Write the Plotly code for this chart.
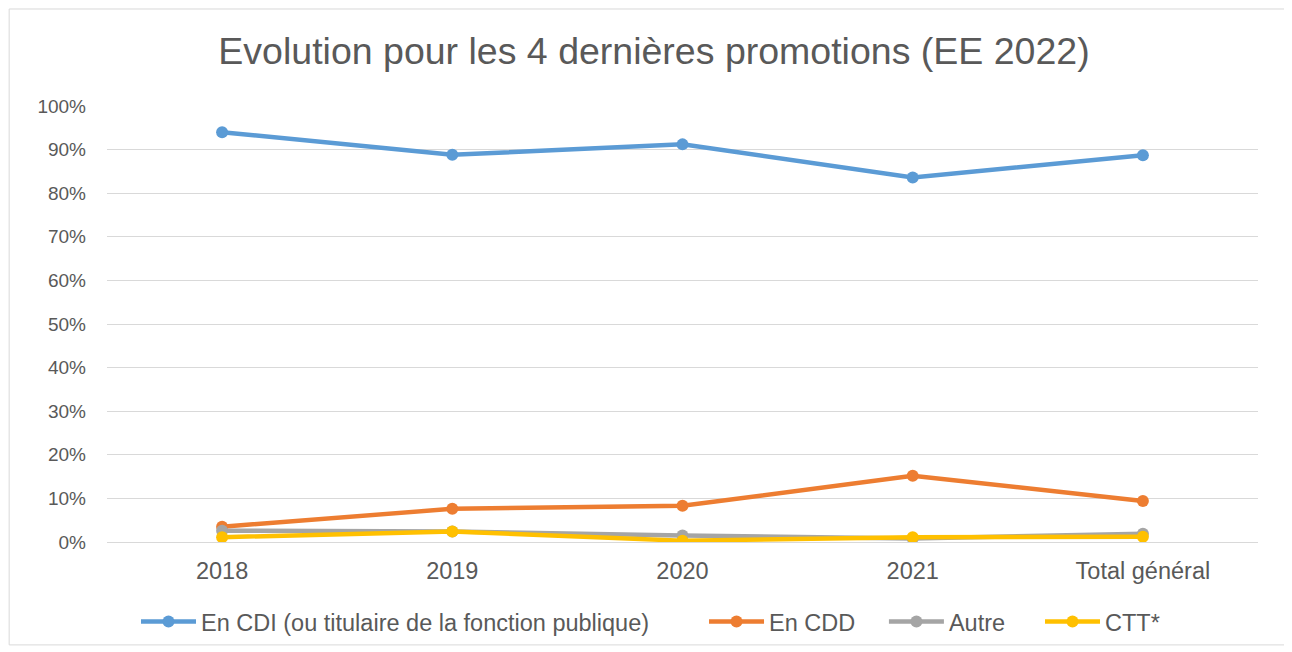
import plotly.graph_objects as go

categories = ["2018", "2019", "2020", "2021", "Total général"]
cdi = [0.940, 0.888, 0.912, 0.836, 0.887]
cdd = [0.035, 0.076, 0.083, 0.152, 0.094]
autre = [0.026, 0.024, 0.015, 0.008, 0.019]
ctt = [0.011, 0.024, 0.003, 0.011, 0.012]

series = [
    ("En CDI (ou titulaire de la fonction publique)", cdi, "#5B9BD5"),
    ("En CDD", cdd, "#ED7D31"),
    ("Autre", autre, "#A5A5A5"),
    ("CTT*", ctt, "#FFC000"),
]
# one legend per series so the spacing between entries can match
legend_ids = ["legend", "legend2", "legend3", "legend4"]
legend_x = [0.0252, 0.5187, 0.675, 0.8106]

fig = go.Figure()
for (name, vals, col), lg in zip(series, legend_ids):
    fig.add_trace(go.Scatter(
        x=categories, y=vals, name=name, legend=lg,
        mode="lines+markers",
        line=dict(color=col, width=4.5),
        marker=dict(color=col, size=12),
    ))

# page has an 8px body margin, so everything is offset by 8px
fig.update_layout(
    width=1292, height=652,
    paper_bgcolor="white", plot_bgcolor="white",
    font=dict(family="Liberation Sans, Arial, sans-serif", size=19, color="#595959"),
    title=dict(text="Evolution pour les 4 dernières promotions (EE 2022)",
               x=0.5, xanchor="center", y=0.935, yanchor="middle",
               font=dict(size=37.5, color="#595959")),
    margin=dict(l=99, r=42, t=98, b=118),
    showlegend=True,
)
for lg, lx in zip(legend_ids, legend_x):
    fig.update_layout({lg: dict(orientation="h", x=lx, xanchor="left", y=-0.183,
                                yanchor="middle", font=dict(size=23.5), itemwidth=55,
                                bgcolor="rgba(0,0,0,0)")})

fig.update_xaxes(range=[-0.5, 4.5], showgrid=False, showline=True, linecolor="#D9D9D9",
                 linewidth=1, ticks="", tickfont=dict(size=23.5), ticklabelstandoff=8)
fig.update_yaxes(range=[0, 1], dtick=0.1, tickformat=".0%", showgrid=True,
                 gridcolor="#D9D9D9", gridwidth=1, zeroline=False, showline=False,
                 ticks="", ticklabelstandoff=20, tickfont=dict(size=19))

fig.add_shape(type="rect", xref="paper", yref="paper",
              x0=-0.085, x1=1.0235, y0=-0.236, y1=1.2225,
              line=dict(color="#D9D9D9", width=1), layer="below")

fig.write_html("out.html")
